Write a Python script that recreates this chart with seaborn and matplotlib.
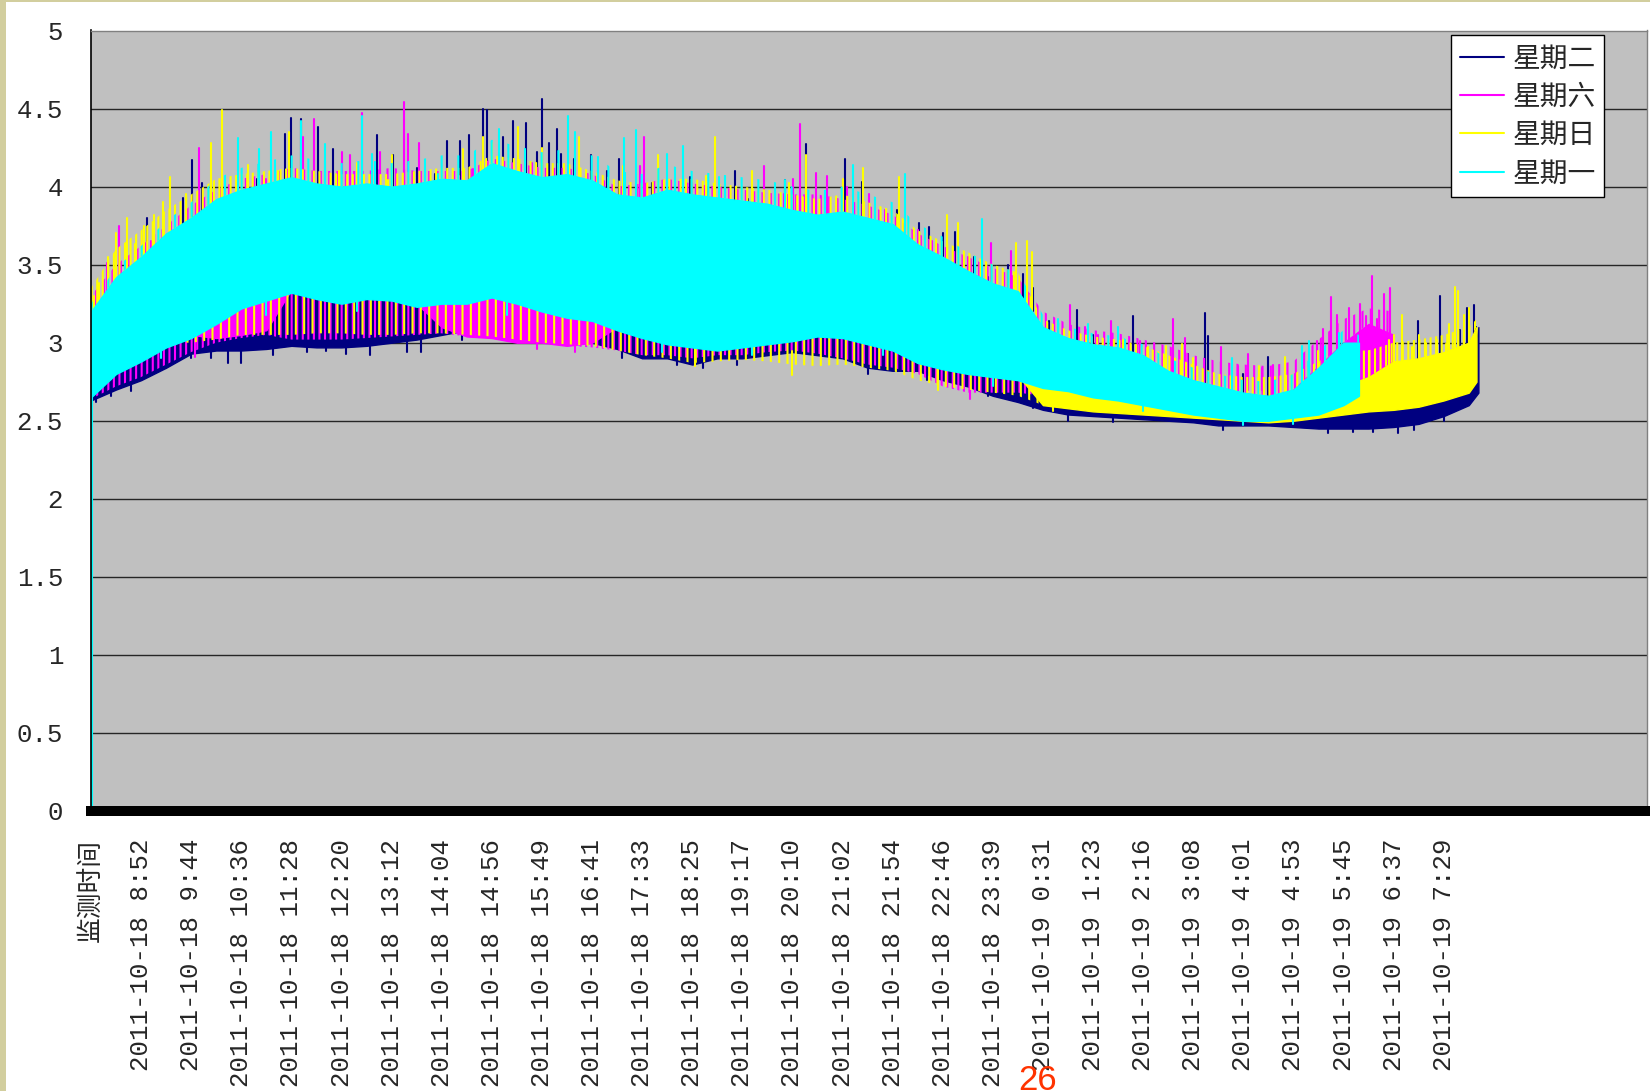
import numpy as np
import pandas as pd
import matplotlib
matplotlib.use("Agg")
import matplotlib.pyplot as plt
from matplotlib.lines import Line2D
from matplotlib.patches import Rectangle
from matplotlib.font_manager import FontProperties
import seaborn as sns

sns.set_style("white")
plt.rcParams["font.family"] = ["Liberation Mono", "Noto Sans CJK SC", "DejaVu Sans"]
plt.rcParams["hatch.linewidth"] = 1.5

# ---------------------------------------------------------------------------
# Category axis: one row per monitoring sample, a date-time label every 52 rows
# ---------------------------------------------------------------------------
ROWS_PER_LABEL = 52
HALF = ROWS_PER_LABEL // 2
N_ROWS = 1615

time_labels = [
    "监测时间",
    "2011-10-18 8:52", "2011-10-18 9:44", "2011-10-18 10:36", "2011-10-18 11:28",
    "2011-10-18 12:20", "2011-10-18 13:12", "2011-10-18 14:04", "2011-10-18 14:56",
    "2011-10-18 15:49", "2011-10-18 16:41", "2011-10-18 17:33", "2011-10-18 18:25",
    "2011-10-18 19:17", "2011-10-18 20:10", "2011-10-18 21:02", "2011-10-18 21:54",
    "2011-10-18 22:46", "2011-10-18 23:39", "2011-10-19 0:31", "2011-10-19 1:23",
    "2011-10-19 2:16", "2011-10-19 3:08", "2011-10-19 4:01", "2011-10-19 4:53",
    "2011-10-19 5:45", "2011-10-19 6:37", "2011-10-19 7:29",
]

y_ticks = [0, 0.5, 1, 1.5, 2, 2.5, 3, 3.5, 4, 4.5, 5]
y_tick_labels = ["0", "0.5", "1", "1.5", "2", "2.5", "3", "3.5", "4", "4.5", "5"]

series_names = ["星期二", "星期六", "星期日", "星期一"]
series_colors = ["#000080", "#FF00FF", "#FFFF00", "#00FFFF"]

# ---------------------------------------------------------------------------
# Dense part of each day's trace: lower / upper value every half label step
# (the last entry sits on the day's final row).  *_streak_low / *_streak_high
# mark how far the scattered readings of that day reach beyond its dense part.
# ---------------------------------------------------------------------------
tue_low = [2.63, 2.70, 2.76, 2.84, 2.93, 2.95, 2.95, 2.96, 2.98, 2.97, 2.97, 2.98,
           3.00, 3.02, 3.05, 3.08, 3.10, 3.08, 3.04, 3.02, 3.00, 2.96, 2.90, 2.90,
           2.86, 2.90, 2.90, 2.92, 2.94, 2.92, 2.90, 2.84, 2.82, 2.82, 2.76, 2.72,
           2.66, 2.62, 2.57, 2.54, 2.53, 2.52, 2.51, 2.50, 2.49, 2.47, 2.47, 2.47,
           2.46, 2.45, 2.45, 2.45, 2.46, 2.48, 2.53, 2.60, 2.68]
tue_high = [3.00, 3.10, 3.20, 3.35, 3.45, 3.50, 3.55, 3.65, 3.70, 3.70, 3.70, 3.75,
            3.80, 3.80, 3.85, 3.90, 3.95, 3.95, 3.90, 3.88, 3.85, 3.80, 3.70, 3.70,
            3.70, 3.70, 3.70, 3.72, 3.70, 3.70, 3.70, 3.65, 3.60, 3.45, 3.35, 3.30,
            3.20, 3.15, 2.72, 2.66, 2.62, 2.60, 2.58, 2.56, 2.55, 2.54, 2.53, 2.53,
            2.53, 2.54, 2.55, 2.56, 2.57, 2.60, 2.65, 2.70, 3.10]
tue_last_row = 1440

sat_low = [2.67, 2.82, 2.90, 2.99, 3.05, 3.03, 3.05, 3.08, 3.34, 3.30, 3.27, 3.30,
           3.29, 3.25, 3.10, 3.04, 3.03, 3.00, 3.00, 2.98, 3.00, 3.10, 3.05, 3.01,
           2.99, 2.97, 2.99, 3.01, 3.03, 3.06, 3.05, 3.01, 2.97, 2.89, 2.85, 2.82,
           2.80, 2.78, 2.73, 2.71, 2.67, 2.65, 2.62, 2.59, 2.56, 2.54, 2.52, 2.52,
           2.54, 2.56, 2.60, 2.62, 2.65]
sat_streak_low = [2.64, 2.72, 2.78, 2.86, 2.94, 3.00, 3.03, 3.05, 3.02, 3.02, 3.02,
                  3.03, 3.04, 3.05, 3.06, 3.04, 3.03, 3.00, 3.00, 2.98, 2.97, 2.95,
                  2.92, 2.92, 2.90, 2.92, 2.92, 2.94, 2.95, 2.93, 2.90, 2.86, 2.84,
                  2.80, 2.72, 2.68, 2.68, 2.68, 2.66, 2.71, 2.67, 2.65, 2.62, 2.59,
                  2.56, 2.54, 2.52, 2.52, 2.54, 2.56, 2.60, 2.62, 2.65]
sat_high = [3.10, 3.20, 3.30, 3.40, 3.50, 3.55, 3.60, 3.65, 3.70, 3.72, 3.75, 3.78,
            3.80, 3.80, 3.82, 3.85, 3.85, 3.85, 3.85, 3.82, 3.80, 3.80, 3.75, 3.75,
            3.75, 3.72, 3.72, 3.70, 3.70, 3.70, 3.68, 3.65, 3.60, 3.50, 3.40, 3.30,
            3.20, 3.15, 2.95, 2.92, 2.90, 2.88, 2.85, 2.78, 2.72, 2.70, 2.66, 2.64,
            2.70, 2.85, 3.00, 3.12, 3.05]
sat_streak_high = [3.30, 3.50, 3.62, 3.75, 3.88, 3.98, 4.05, 4.08, 4.12, 4.10, 4.10,
                   4.10, 4.12, 4.10, 4.10, 4.10, 4.18, 4.15, 4.12, 4.12, 4.08, 4.00,
                   4.02, 4.05, 4.02, 4.00, 3.98, 3.96, 3.95, 3.95, 3.92, 3.88, 3.82,
                   3.70, 3.62, 3.55, 3.48, 3.42, 3.20, 3.12, 3.08, 3.06, 3.02, 2.98,
                   2.92, 2.88, 2.86, 2.85, 2.88, 3.02, 3.15, 3.22, 3.20]
sat_last_row = 1352

sun_low = [2.68, 2.83, 2.91, 3.00, 3.06, 3.15, 3.25, 3.30, 3.35, 3.31, 3.28, 3.31,
           3.30, 3.26, 3.28, 3.28, 3.32, 3.28, 3.23, 3.19, 3.17, 3.11, 3.06, 3.02,
           3.00, 2.98, 3.00, 3.02, 3.04, 3.07, 3.06, 3.02, 2.98, 2.90, 2.86, 2.83,
           2.81, 2.79, 2.60, 2.58, 2.56, 2.55, 2.54, 2.53, 2.52, 2.51, 2.50, 2.49,
           2.50, 2.52, 2.54, 2.56, 2.57, 2.59, 2.63, 2.68, 2.75]
sun_streak_low = [2.68, 2.83, 2.91, 3.00, 3.00, 3.02, 3.05, 3.05, 3.05, 3.06, 3.06,
                  3.05, 3.05, 3.06, 3.06, 3.05, 3.04, 3.02, 3.00, 2.99, 2.98, 2.95,
                  2.92, 2.90, 2.87, 2.88, 2.89, 2.88, 2.86, 2.85, 2.86, 2.84, 2.82,
                  2.76, 2.72, 2.70, 2.68, 2.66, 2.60, 2.58, 2.56, 2.55, 2.54, 2.53,
                  2.52, 2.51, 2.50, 2.49, 2.50, 2.52, 2.54, 2.56, 2.57, 2.59, 2.63,
                  2.68, 2.75]
sun_high = [3.20, 3.40, 3.55, 3.65, 3.75, 3.85, 3.90, 3.95, 3.95, 3.95, 3.95, 3.95,
            3.95, 3.95, 3.98, 4.00, 4.00, 3.98, 3.95, 3.92, 3.90, 3.90, 3.85, 3.85,
            3.85, 3.82, 3.80, 3.80, 3.80, 3.78, 3.75, 3.72, 3.70, 3.60, 3.50, 3.40,
            3.30, 3.25, 2.85, 2.72, 2.68, 2.66, 2.64, 2.62, 2.60, 2.58, 2.57, 2.58,
            2.62, 2.66, 2.72, 2.78, 2.88, 2.90, 2.94, 3.00, 3.10]
sun_streak_high = [3.35, 3.60, 3.72, 3.85, 3.95, 4.05, 4.08, 4.10, 4.12, 4.10, 4.08,
                   4.08, 4.08, 4.10, 4.12, 4.12, 4.20, 4.18, 4.15, 4.15, 4.10, 4.04,
                   4.02, 4.05, 4.05, 4.02, 4.00, 3.98, 3.95, 3.92, 3.95, 3.90, 3.85,
                   3.72, 3.65, 3.58, 3.50, 3.45, 3.15, 3.08, 3.04, 3.02, 2.98, 2.92,
                   2.86, 2.80, 2.78, 2.78, 2.80, 2.88, 2.95, 2.95, 3.00, 3.02, 3.05,
                   3.10, 3.15]
sun_last_row = 1438

mon_low = [2.65, 2.80, 2.88, 2.97, 3.03, 3.12, 3.22, 3.27, 3.32, 3.28, 3.25, 3.28,
           3.27, 3.23, 3.25, 3.25, 3.29, 3.25, 3.20, 3.16, 3.14, 3.08, 3.03, 2.99,
           2.97, 2.95, 2.97, 2.99, 3.01, 3.04, 3.03, 2.99, 2.95, 2.87, 2.83, 2.80,
           2.78, 2.76, 2.71, 2.69, 2.65, 2.63, 2.60, 2.57, 2.54, 2.52, 2.50, 2.50,
           2.52, 2.54, 2.60, 2.66]
mon_high = [3.20, 3.42, 3.55, 3.70, 3.80, 3.92, 3.98, 4.02, 4.06, 4.02, 4.00, 4.02,
            4.00, 4.02, 4.05, 4.04, 4.15, 4.10, 4.06, 4.08, 4.04, 3.95, 3.93, 3.98,
            3.95, 3.93, 3.91, 3.89, 3.85, 3.82, 3.84, 3.80, 3.76, 3.63, 3.55, 3.46,
            3.38, 3.33, 3.10, 3.03, 2.99, 2.97, 2.92, 2.82, 2.76, 2.72, 2.68, 2.66,
            2.70, 2.84, 3.00, 3.00]
mon_streak_high = [3.25, 3.48, 3.62, 3.78, 3.90, 4.05, 4.12, 4.16, 4.20, 4.17, 4.15,
                   4.17, 4.15, 4.17, 4.20, 4.20, 4.30, 4.26, 4.22, 4.24, 4.20, 4.10,
                   4.08, 4.14, 4.10, 4.08, 4.06, 4.04, 4.00, 3.97, 4.00, 3.95, 3.90,
                   3.76, 3.68, 3.58, 3.50, 3.45, 3.18, 3.10, 3.06, 3.04, 2.99, 2.90,
                   2.84, 2.80, 2.76, 2.75, 2.80, 2.95, 3.08, 3.05]
mon_last_row = 1316

# ---------------------------------------------------------------------------
# Isolated excursions: (position in label steps, from value, to value)
# ---------------------------------------------------------------------------
tue_spikes = [
    (1.12, 3.2, 3.80), (1.85, 3.3, 3.93), (2.02, 3.4, 4.17), (2.22, 3.5, 4.02),
    (3.87, 3.6, 4.34), (4.00, 3.6, 4.44), (4.19, 3.6, 4.43), (4.54, 3.6, 4.38),
    (4.82, 3.6, 4.24), (5.72, 3.6, 4.33), (6.01, 3.6, 4.20), (6.87, 3.7, 4.08),
    (7.11, 3.7, 4.29), (7.37, 3.7, 4.29), (7.53, 3.7, 4.33), (7.83, 3.8, 4.50),
    (7.90, 3.8, 4.49), (8.06, 3.8, 4.10), (8.23, 3.8, 4.32), (8.43, 3.8, 4.42),
    (8.68, 3.8, 4.41), (9.00, 3.8, 4.56), (9.14, 3.8, 4.28), (9.31, 3.8, 4.37),
    (9.38, 3.7, 4.21), (9.63, 3.7, 4.18), (9.99, 3.7, 4.20), (10.54, 3.6, 4.18),
    (10.69, 3.6, 3.91), (11.56, 3.6, 4.00), (11.96, 3.6, 4.06), (12.85, 3.6, 4.10),
    (13.12, 3.6, 3.92), (13.45, 3.6, 3.89), (13.84, 3.6, 4.04), (14.27, 3.6, 4.27),
    (15.06, 3.6, 4.18), (15.38, 3.6, 4.03), (16.51, 3.3, 3.77), (16.73, 3.3, 3.74),
    (17.25, 3.2, 3.71), (17.63, 3.1, 3.55), (17.91, 3.1, 3.42), (18.59, 3.0, 3.44),
    (19.11, 2.7, 3.14), (19.68, 2.6, 3.21), (20.79, 2.6, 3.17), (21.90, 2.55, 2.93),
    (22.24, 2.55, 3.19), (22.29, 2.55, 3.04), (23.50, 2.5, 2.91), (24.30, 2.5, 2.86),
    (26.06, 2.55, 2.87), (26.48, 2.55, 3.14), (26.70, 2.6, 2.88), (26.92, 2.6, 3.30),
    (27.33, 2.65, 3.08), (27.47, 2.65, 3.22), (27.59, 2.65, 3.24), (27.66, 2.69, 3.10),
    (0.90, 3.2, 3.50), (1.60, 3.4, 3.62), (3.30, 3.8, 4.05), (6.50, 3.9, 4.12),
    (8.90, 3.9, 4.22), (10.30, 3.9, 4.10), (11.20, 3.85, 4.02), (12.30, 3.85, 4.00),
    (16.10, 3.65, 3.85), (17.00, 3.5, 3.70), (18.30, 3.3, 3.50), (18.80, 3.2, 3.35),
    (20.00, 2.95, 3.05), (23.00, 2.65, 2.80), (25.80, 2.6, 2.75), (26.30, 2.6, 2.80),
    (27.20, 2.7, 2.95),
    (0.10, 2.62, 2.80), (0.40, 2.66, 2.85), (0.80, 2.69, 2.90), (1.50, 2.84, 3.00),
    (2.00, 2.90, 3.05), (2.40, 2.90, 3.10), (2.74, 2.87, 3.10), (3.00, 2.87, 3.10),
    (3.64, 2.92, 3.10), (4.30, 2.94, 3.10), (4.70, 2.95, 3.10), (5.10, 2.93, 3.10),
    (5.57, 2.92, 3.10), (6.30, 2.94, 3.10), (6.60, 2.94, 3.10), (7.40, 3.02, 3.15),
    (10.60, 2.90, 3.00), (11.70, 2.86, 2.95), (12.22, 2.84, 3.00), (12.90, 2.86, 2.95),
    (15.50, 2.80, 2.90), (16.70, 2.76, 2.85), (17.90, 2.66, 2.75), (18.80, 2.58, 2.70),
    (19.50, 2.50, 2.60), (20.40, 2.49, 2.55), (22.60, 2.44, 2.50), (24.70, 2.42, 2.50),
    (25.20, 2.43, 2.50), (25.60, 2.43, 2.50), (26.10, 2.42, 2.50), (26.40, 2.44, 2.50),
    (27.00, 2.50, 2.55),
]

sat_spikes = [
    (0.32, 3.1, 3.51), (0.55, 3.1, 3.75), (2.16, 3.5, 4.25), (2.81, 3.5, 3.89),
    (4.24, 3.7, 4.32), (4.44, 3.7, 4.43), (5.00, 3.7, 4.22), (5.17, 3.7, 4.20),
    (5.40, 3.7, 4.47), (5.77, 3.7, 4.22), (6.25, 3.7, 4.54), (6.33, 3.7, 4.34),
    (6.53, 3.7, 4.28), (7.35, 3.7, 4.07), (7.61, 3.7, 4.11), (10.38, 3.6, 3.91),
    (10.97, 3.6, 4.13), (11.03, 3.6, 4.32), (11.26, 3.6, 3.85), (13.42, 3.6, 4.13),
    (13.82, 3.6, 3.95), (14.02, 3.6, 4.05), (14.15, 3.6, 4.40), (14.47, 3.6, 4.09),
    (14.69, 3.6, 4.07), (15.53, 3.5, 3.95), (15.85, 3.5, 3.85), (16.78, 3.3, 3.65),
    (17.97, 3.1, 3.64), (18.36, 3.0, 3.59), (19.54, 2.8, 3.24), (19.84, 2.8, 3.10),
    (20.10, 2.8, 3.05), (20.37, 2.8, 3.14), (20.94, 2.7, 3.01), (21.60, 2.7, 3.15),
    (21.85, 2.7, 3.03), (22.56, 2.7, 2.97), (23.10, 2.7, 2.93), (23.37, 2.7, 2.84),
    (24.03, 2.7, 2.80), (24.47, 2.75, 3.01), (24.60, 2.75, 3.09), (24.75, 2.75, 3.29),
    (24.87, 2.8, 3.18), (25.12, 2.8, 3.22), (25.33, 2.8, 3.25), (25.44, 2.8, 3.17),
    (25.58, 2.8, 3.43), (25.68, 2.8, 3.15), (25.80, 2.8, 3.31), (25.93, 2.8, 3.35),
    (1.20, 3.5, 3.65), (3.50, 3.9, 4.05), (8.80, 3.9, 4.15), (9.80, 3.9, 4.05),
    (12.00, 3.8, 4.02), (15.10, 3.75, 4.00), (16.50, 3.55, 3.72), (17.50, 3.4, 3.55),
    (22.90, 2.62, 2.85), (23.60, 2.62, 2.86),
    (2.08, 2.91, 3.10), (8.90, 2.96, 3.10), (9.66, 2.94, 3.10), (17.53, 2.64, 2.85),
]

sun_spikes = [
    (0.15, 3.0, 3.38), (0.72, 3.3, 3.80), (0.88, 3.3, 3.63), (1.45, 3.4, 3.90),
    (1.58, 3.4, 4.06), (2.41, 3.6, 4.28), (2.61, 3.6, 4.49), (3.13, 3.7, 4.14),
    (3.74, 3.7, 4.10), (3.95, 3.7, 4.35), (4.20, 3.7, 4.19), (4.94, 3.7, 4.10),
    (5.93, 3.7, 4.04), (6.67, 3.7, 4.10), (7.43, 3.8, 4.24), (7.83, 3.8, 4.32),
    (8.52, 3.8, 4.38), (9.74, 3.7, 4.32), (10.61, 3.7, 4.13), (12.26, 3.7, 4.07),
    (12.47, 3.7, 4.32), (13.92, 3.6, 4.02), (14.27, 3.6, 4.20), (16.14, 3.5, 4.06),
    (17.08, 3.3, 3.82), (17.31, 3.3, 3.77), (18.46, 3.1, 3.64), (18.68, 3.1, 3.65),
    (18.79, 3.1, 3.58), (21.10, 2.6, 2.97), (21.47, 2.6, 2.98), (21.77, 2.6, 2.99),
    (22.77, 2.55, 2.80), (23.30, 2.55, 2.85), (23.83, 2.55, 2.91), (26.18, 2.8, 3.18),
    (26.36, 2.8, 2.97), (26.66, 2.8, 3.00), (26.86, 2.8, 3.02), (27.03, 2.85, 2.99),
    (27.23, 2.85, 3.36), (27.29, 2.85, 3.33), (27.41, 2.9, 3.18),
    (0.05, 2.9, 3.30), (0.35, 3.3, 3.55), (0.50, 3.35, 3.70), (1.05, 3.5, 3.75),
    (1.25, 3.5, 3.82), (1.90, 3.7, 3.95), (5.30, 3.9, 4.15), (6.00, 3.9, 4.20),
    (8.00, 4.0, 4.28), (9.00, 4.0, 4.25), (11.30, 3.9, 4.20), (13.20, 3.85, 4.10),
    (15.00, 3.8, 4.05), (15.40, 3.8, 4.12), (19.90, 2.95, 3.05), (20.60, 2.9, 3.02),
    (22.00, 2.75, 2.90), (24.50, 2.8, 2.95), (25.50, 2.75, 2.95), (25.90, 2.8, 3.02),
    (26.00, 2.8, 3.05), (26.50, 2.85, 3.05), (27.10, 2.9, 3.12), (27.50, 2.95, 3.22),
    (12.06, 2.85, 3.00), (14.00, 2.79, 2.95), (16.90, 2.70, 2.85), (19.20, 2.56, 2.70),
]

mon_spikes = [
    (0.02, 0.0, 2.72),
    (2.95, 3.8, 4.31), (3.34, 3.8, 4.24), (3.59, 3.8, 4.35), (4.20, 3.9, 4.42),
    (4.67, 3.9, 4.27), (5.40, 3.9, 4.45), (5.62, 3.9, 4.21), (6.93, 3.9, 4.08),
    (8.13, 4.0, 4.37), (9.51, 4.0, 4.45), (9.66, 4.0, 4.35), (10.11, 3.9, 4.19),
    (10.63, 3.9, 4.31), (10.89, 3.9, 4.36), (11.50, 3.9, 4.21), (11.80, 3.9, 4.26),
    (12.54, 3.8, 4.06), (13.84, 3.8, 4.04), (15.22, 3.8, 4.14), (16.25, 3.7, 4.08),
    (17.79, 3.4, 3.79), (19.30, 3.0, 3.15), (19.90, 2.9, 3.12), (20.50, 2.9, 3.10),
    (22.77, 2.7, 2.90), (24.17, 2.7, 2.98), (24.31, 2.7, 3.01), (24.90, 2.9, 3.06),
    (1.40, 2.90, 3.00), (3.50, 3.18, 3.30), (5.30, 3.20, 3.30), (8.30, 3.18, 3.30),
    (11.40, 2.94, 3.05), (13.20, 2.92, 3.00), (15.80, 2.92, 3.00), (18.00, 2.72, 2.80),
    (21.00, 2.56, 2.62), (23.00, 2.47, 2.52), (24.00, 2.48, 2.55),
]

# ---------------------------------------------------------------------------
# Figure
# ---------------------------------------------------------------------------
W, H = 1650, 1091
fig = plt.figure(figsize=(W / 100, H / 100), dpi=100)
fig.patch.set_facecolor("white")

ax_left, ax_right, ax_top, ax_bottom = 91, 1647, 30.5, 811
ax = fig.add_axes([ax_left / W, 1 - ax_bottom / H,
                   (ax_right - ax_left) / W, (ax_bottom - ax_top) / H])
ax.set_facecolor("#C0C0C0")


def band_rows(n, last_row):
    rows = np.arange(n) * HALF
    rows[-1] = last_row
    return rows


def draw_day(low, high, last_row, spikes, color,
             streak_low=None, low_hatch=None, streak_high=None, high_hatch=None):
    rows = band_rows(len(low), last_row)
    ax.fill_between(rows, low, high, facecolor=color, edgecolor=color,
                    linewidth=1.0, zorder=2)
    if streak_low is not None:
        ax.fill_between(rows, streak_low, low, facecolor="none",
                        edgecolor=color, hatch=low_hatch, linewidth=0, zorder=2)
    if streak_high is not None:
        ax.fill_between(rows, high, streak_high, facecolor="none",
                        edgecolor=color, hatch=high_hatch, linewidth=0, zorder=2)
    recs = []
    for k, (t, lo, hi) in enumerate(spikes):
        r = int(round(t * ROWS_PER_LABEL))
        recs.append({"row": r, "value": lo, "sid": k})
        recs.append({"row": r, "value": hi, "sid": k})
    df = pd.DataFrame(recs)
    sns.lineplot(data=df, x="row", y="value", units="sid", estimator=None,
                 color=color, linewidth=1.5, sort=False, legend=False,
                 zorder=2, ax=ax)


draw_day(tue_low, tue_high, tue_last_row, tue_spikes, series_colors[0])
draw_day(sat_low, sat_high, sat_last_row, sat_spikes, series_colors[1],
         streak_low=sat_streak_low, low_hatch="|||",
         streak_high=sat_streak_high, high_hatch="||")
draw_day(sun_low, sun_high, sun_last_row, sun_spikes, series_colors[2],
         streak_low=sun_streak_low, low_hatch="||",
         streak_high=sun_streak_high, high_hatch="|||")
draw_day(mon_low, mon_high, mon_last_row, mon_spikes, series_colors[3],
         streak_high=mon_streak_high, high_hatch="|")

ax.set_xlim(0, N_ROWS)
ax.set_ylim(0, 5)
ax.set_xlabel("")
ax.set_ylabel("")

# value axis
ax.set_yticks(y_ticks)
ax.set_yticklabels(y_tick_labels, fontsize=18.5,
                   family=["Liberation Mono", "DejaVu Sans"])
ax.tick_params(axis="y", direction="in", length=8, width=1.0,
               color="black", pad=20)
ax.set_axisbelow(True)
ax.yaxis.grid(True, color="#262626", linewidth=1.0)
ax.xaxis.grid(False)

# category axis
tick_rows = [i * ROWS_PER_LABEL for i in range(len(time_labels))]
ax.set_xticks(tick_rows)
ax.set_xticklabels(time_labels, rotation=90, ha="center", va="top",
                   fontsize=18.5,
                   family=["Liberation Mono", "Noto Sans CJK SC"])
ax.tick_params(axis="x", length=0, pad=20)

for side in ("top", "right"):
    ax.spines[side].set_color("#808080")
    ax.spines[side].set_linewidth(1.0)
ax.spines["left"].set_color("black")
ax.spines["left"].set_linewidth(1.2)
ax.spines["bottom"].set_color("black")
ax.spines["bottom"].set_linewidth(7.2)

# legend
handles = [Line2D([0], [0], color=c, linewidth=1.5) for c in series_colors]
leg = ax.legend(handles, series_names, loc="upper right",
                bbox_to_anchor=((1604 - ax_left) / (ax_right - ax_left),
                                1 - (35 - ax_top) / (ax_bottom - ax_top)),
                borderaxespad=0, frameon=True, fancybox=False, shadow=False,
                framealpha=1, facecolor="white", edgecolor="black",
                prop=FontProperties(family="Noto Sans CJK SC", size=20),
                handlelength=1.6, handletextpad=0.3, borderpad=0.3,
                labelspacing=0.3)
leg.get_frame().set_linewidth(1.0)

# page decoration and slide number
fig.add_artist(Rectangle((0, 0), 6 / W, 1, transform=fig.transFigure,
                         facecolor="#D2CE9E", edgecolor="none"))
fig.add_artist(Rectangle((0, 1 - 2 / H), 1, 2 / H, transform=fig.transFigure,
                         facecolor="#D2CE9E", edgecolor="none"))
fig.text(1018 / W, 1 - 1090 / H, "26", color="#FF3300", fontsize=25,
         family=["Liberation Sans", "DejaVu Sans"], ha="left", va="baseline")

fig.savefig("out.png", dpi=100, facecolor=fig.get_facecolor())
